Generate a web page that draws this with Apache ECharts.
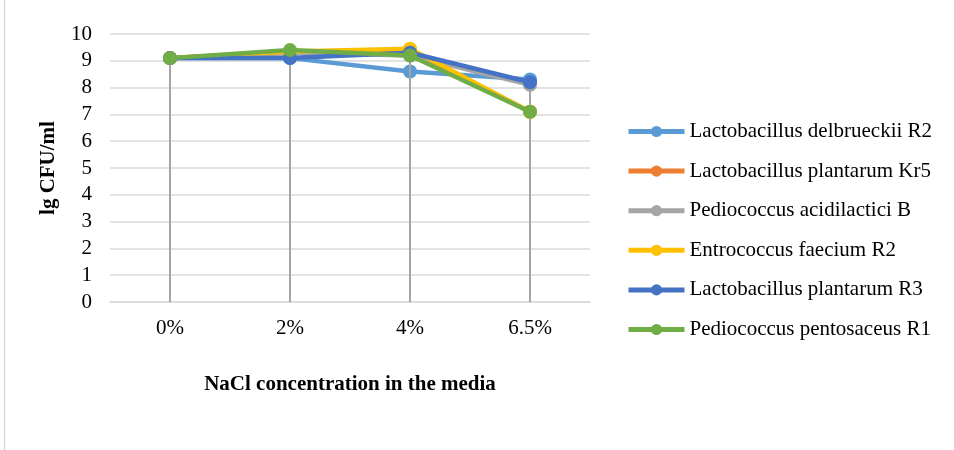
<!DOCTYPE html>
<html><head><meta charset="utf-8">
<script src="https://cdn.jsdelivr.net/npm/echarts@6/dist/echarts.min.js"></script>
<style>html,body{margin:0;padding:0;background:#fff}#c{width:954px;height:450px}</style>
</head><body><div id="c"></div>
<script>
var categories = ['0%', '2%', '4%', '6.5%'];
var seriesNames = ['Lactobacillus delbrueckii R2', 'Lactobacillus plantarum Kr5', 'Pediococcus acidilactici B', 'Entrococcus faecium R2', 'Lactobacillus plantarum R3', 'Pediococcus pentosaceus R1'];
var delbrueckiiR2 = [9.1, 9.1, 8.6, 8.3];
var plantarumKr5 = [9.1, 9.3, 9.4, 7.1];
var acidilacticiB = [9.1, 9.3, 9.2, 8.1];
var faeciumR2 = [9.1, 9.35, 9.45, 7.1];
var plantarumR3 = [9.1, 9.1, 9.3, 8.2];
var pentosaceusR1 = [9.1, 9.4, 9.2, 7.1];
var yTicks = [0, 1, 2, 3, 4, 5, 6, 7, 8, 9, 10];
var colors = ['#5B9BD5', '#ED7D31', '#A5A5A5', '#FFC000', '#4472C4', '#70AD47'];
var allData = [delbrueckiiR2, plantarumKr5, acidilacticiB, faeciumR2, plantarumR3, pentosaceusR1];

var font = '"Liberation Serif", "Times New Roman", serif';
var drop = categories.map(function (c, i) {
  var m = Math.max.apply(null, allData.map(function (d) { return d[i]; }));
  return [{ coord: [i, m] }, { coord: [i, 0] }];
});

var series = allData.map(function (d, k) {
  return {
    name: seriesNames[k], type: 'line', data: d,
    symbol: 'circle', symbolSize: 14,
    lineStyle: { width: 4.5, color: colors[k] },
    itemStyle: { color: colors[k] },
    emphasis: { disabled: true },
    animation: false, z: 2 + k
  };
});
series.push({
  type: 'line', data: [], silent: true, z: 20,
  markLine: { silent: true, symbol: 'none', animation: false, label: { show: false },
    lineStyle: { color: '#A5A5A5', width: 2, type: 'solid' }, data: drop }
});

var chart = echarts.init(document.getElementById('c'));
chart.setOption({
  animation: false,
  color: colors,
  graphic: [{ type: 'rect', shape: { x: 4.5, y: -5, width: 1000, height: 500 }, style: { fill: 'none', stroke: '#D9D9D9', lineWidth: 1.5 } }],
  grid: { left: 110, right: 364, top: 34, bottom: 148 },
  legend: {
    orient: 'vertical', left: 621, top: 116, itemWidth: 56, itemHeight: 14, itemGap: 18.6,
    data: seriesNames,
    lineStyle: { width: 5 },
    textStyle: { fontFamily: font, fontSize: 21, color: '#000' }
  },
  xAxis: {
    type: 'category', data: categories, boundaryGap: true,
    name: 'NaCl concentration in the media', nameLocation: 'middle', nameGap: 72,
    nameTextStyle: { fontFamily: font, fontSize: 21, fontWeight: 'bold', color: '#000' },
    axisLine: { lineStyle: { color: '#D9D9D9', width: 1.5 } },
    axisTick: { show: false },
    axisLabel: { fontFamily: font, fontSize: 21, color: '#000', margin: 16 }
  },
  yAxis: {
    type: 'value', min: 0, max: 10, interval: 1,
    name: 'lg CFU/ml', nameLocation: 'middle', nameGap: 51, nameRotate: 90,
    nameTextStyle: { fontFamily: font, fontSize: 21, fontWeight: 'bold', color: '#000' },
    axisLine: { show: false }, axisTick: { show: false },
    axisLabel: { fontFamily: font, fontSize: 21, color: '#000', margin: 18,
      formatter: function (v) { return yTicks.indexOf(v) >= 0 ? String(v) : ''; } },
    splitLine: { lineStyle: { color: '#D9D9D9', width: 1.5 } }
  },
  series: series
});
</script></body></html>
